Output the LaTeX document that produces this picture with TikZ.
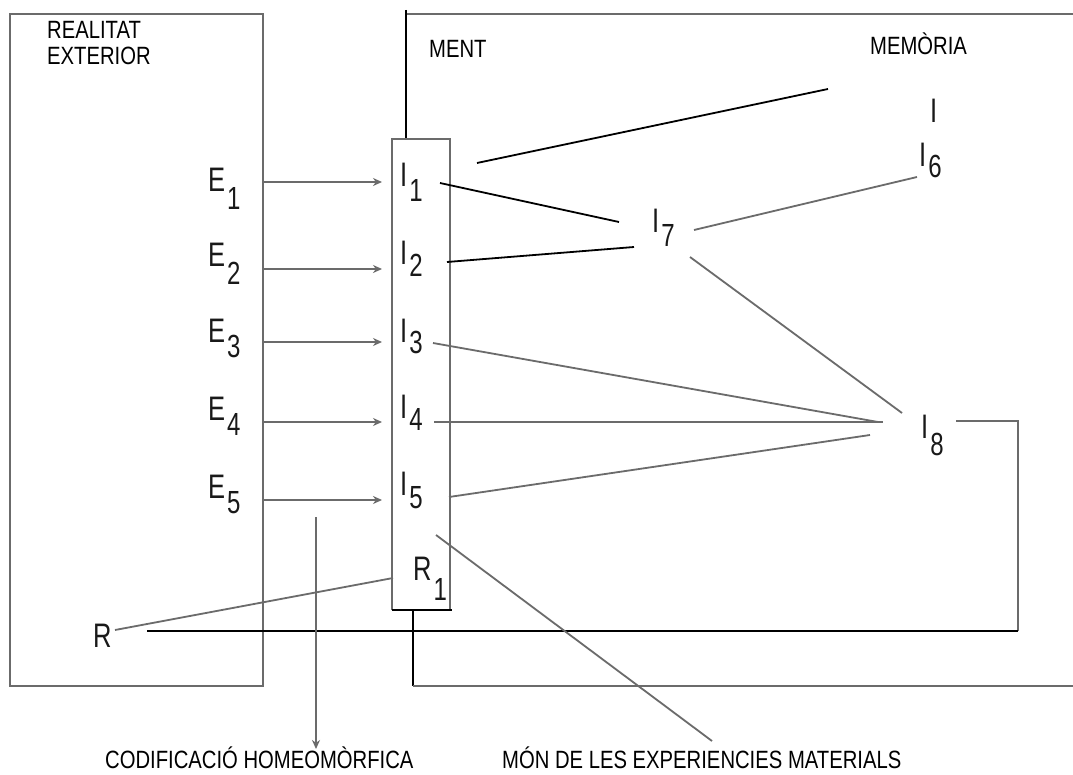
\documentclass[tikz,border=0pt]{standalone}
\usepackage{fontspec}
\setmainfont{Liberation Sans}
\newfontfamily\narrowf[FakeStretch=0.81]{Liberation Sans}
\newfontfamily\labf[FakeStretch=0.75]{Liberation Sans}
\usetikzlibrary{arrows.meta}
\newcommand\sublab[3]{{\fontsize{34}{34}\selectfont #1}\kern2pt\raisebox{-#3pt}{\fontsize{32}{32}\selectfont #2}}
\begin{document}
\begin{tikzpicture}[x=1pt,y=-1pt,
  gl/.style={draw=black!58, line width=1.8pt},
  bl/.style={draw=black, line width=1.8pt},
  ar/.style={gl,-{Stealth[length=9pt,width=8pt]}},
  txt/.style={inner sep=0pt, anchor=base west, font=\narrowf\fontsize{25}{26}\selectfont, align=left},
  lab/.style={inner sep=0pt, anchor=base west, font=\labf, text=black!90}]
\useasboundingbox (0,0) rectangle (1073,775);
\fill[white] (0,0) rectangle (1073,775);

% texts
\node[txt] (real) at (47,65) {REALITAT\\EXTERIOR};
\node[txt] (ment) at (429,58) {MENT};
\node[txt] (mem) at (870,55) {MEMÒRIA};
\node[txt] (codif) at (105,768) {CODIFICACIÓ HOMEOMÒRFICA};
\node[txt] (mon) at (502,768) {MÓN DE LES EXPERIENCIES MATERIALS};

% labels
\node[lab] (e1) at (208,192) {\sublab{E}{1}{18}};
\node[lab] (e2) at (208,267) {\sublab{E}{2}{18}};
\node[lab] (e3) at (208,343) {\sublab{E}{3}{15}};
\node[lab] (e4) at (208,420) {\sublab{E}{4}{15}};
\node[lab] (e5) at (208,498) {\sublab{E}{5}{15}};
\node[lab] (i1) at (400,187) {\sublab{I}{1}{15}};
\node[lab] (i2) at (400,265) {\sublab{I}{2}{12}};
\node[lab] (i3) at (400,342) {\sublab{I}{3}{11}};
\node[lab] (i4) at (400,418) {\sublab{I}{4}{12}};
\node[lab] (i5) at (400,495) {\sublab{I}{5}{13}};
\node[lab] (r1) at (413,580) {\sublab{R}{1}{20}};
\node[lab] (r) at (93,647) {{\fontsize{34}{34}\selectfont R}};
\node[lab] (i7) at (652,233) {\sublab{I}{7}{14}};
\node[lab] (i6) at (919,167) {\sublab{I}{6}{11}};
\node[lab] (i8) at (921,438) {\sublab{I}{8}{17}};
\node[lab] (imem) at (930,123) {{\fontsize{34}{34}\selectfont I}};

% boxes
\coordinate (lb1) at (10,14); \coordinate (lb2) at (263,686);
\draw[gl] (lb1) rectangle (lb2);
\coordinate (mtl) at (406,14); \coordinate (mtr) at (1073,14);
\coordinate (mtop) at (406,10);
\coordinate (ctl) at (392,139); \coordinate (ctr) at (450,139);
\coordinate (cbl) at (392,610); \coordinate (cbr) at (450,610);
\coordinate (cbm) at (413,610); \coordinate (mbl) at (413,686); \coordinate (mbr) at (1073,686);
\draw[gl] (mtl) -- (mtr);
\draw[bl] (mtop) -- (406,139);
\draw[gl] (cbl) -- (ctl) -- (ctr) -- (cbr);
\draw[bl] (cbl) -- (452,610);
\draw[bl] (cbm) -- (mbl);
\draw[gl] (mbl) -- (mbr);

% arrows E -> I
\foreach \y/\n in {182/1,269/2,342/3,422/4,500/5}{
  \coordinate (as\n) at (263,\y); \coordinate (at\n) at (382,\y);
  \draw[ar] (as\n) -- (at\n);
}

% memory links
\coordinate (tl1) at (477,163); \coordinate (tl2) at (828,89);
\draw[bl] (tl1) -- (tl2);
\coordinate (l1a) at (440,183); \coordinate (l1b) at (619,222);
\draw[bl] (l1a) -- (l1b);
\coordinate (l2a) at (447,262); \coordinate (l2b) at (634,247);
\draw[bl] (l2a) -- (l2b);
\coordinate (l76a) at (694,230); \coordinate (l76b) at (917,177);
\draw[gl] (l76a) -- (l76b);
\coordinate (l78a) at (690,257); \coordinate (l78b) at (902,413);
\draw[gl] (l78a) -- (l78b);
\coordinate (l3a) at (433,343); \coordinate (l3b) at (878,422);
\draw[gl] (l3a) -- (l3b);
\coordinate (l4a) at (434,422); \coordinate (l4b) at (883,422);
\draw[gl] (l4a) -- (l4b);
\coordinate (l5a) at (449,497); \coordinate (l5b) at (870,435);
\draw[gl] (l5a) -- (l5b);

% loop back to R
\coordinate (f1) at (956,421); \coordinate (f2) at (1018,421);
\coordinate (f3) at (1018,631); \coordinate (f4) at (147,631);
\draw[gl] (f1) -- (f2) -- (f3);
\draw[bl] (f3) -- (f4);
\coordinate (ra) at (115,630); \coordinate (rb) at (393,578);
\draw[gl] (ra) -- (rb);

% pointers to captions
\coordinate (ca) at (316,517); \coordinate (cb) at (316,749);
\draw[ar] (ca) -- (cb);
\coordinate (ma) at (436,535); \coordinate (mb) at (712,741);
\draw[gl] (ma) -- (mb);
\end{tikzpicture}
\end{document}
